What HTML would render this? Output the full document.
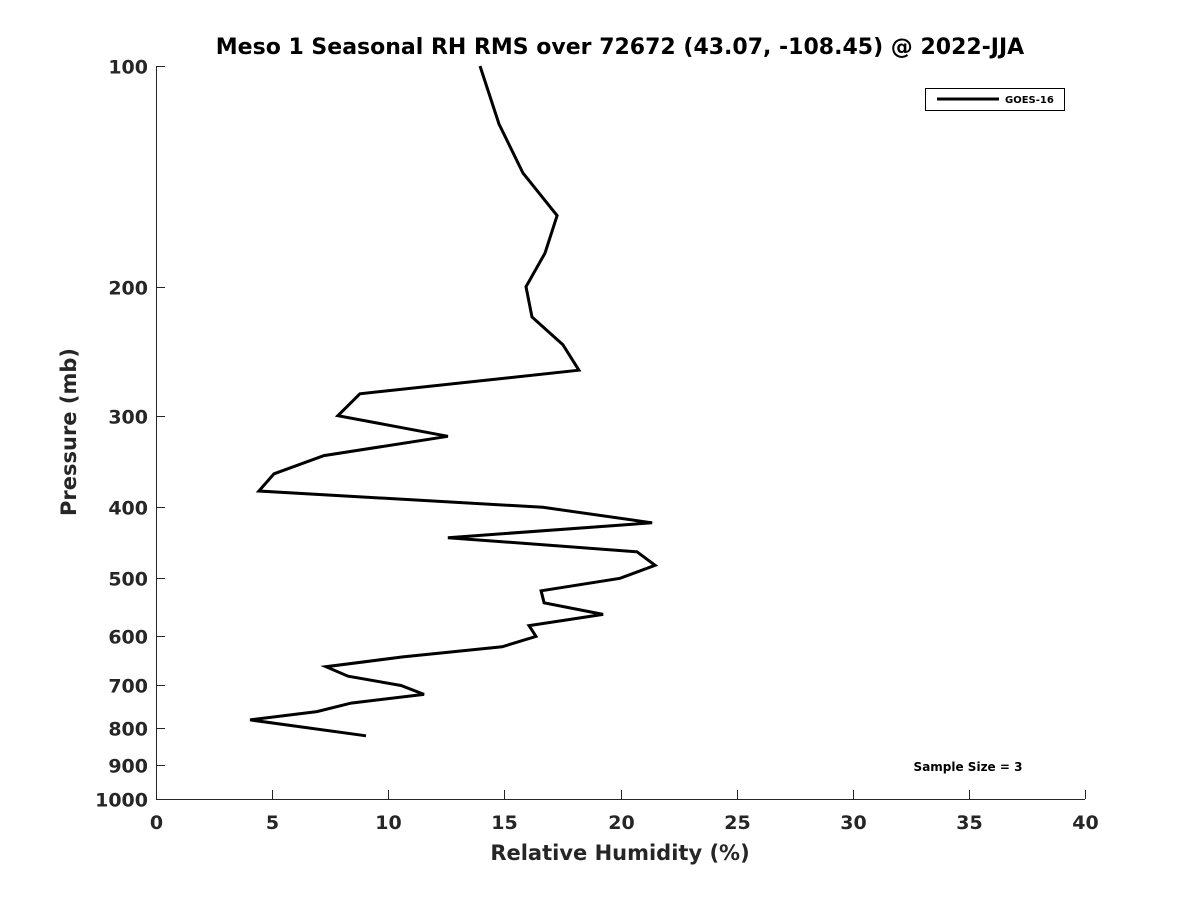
<!DOCTYPE html>
<html><head><meta charset="utf-8"><style>
body{margin:0;background:#fff;}
svg text{font-family:"DejaVu Sans","Liberation Sans",sans-serif;font-weight:bold;fill:#262626;}
</style></head><body>
<svg id="chart" width="1200" height="900" xmlns="http://www.w3.org/2000/svg">
<rect width="1200" height="900" fill="#fff"/>
<text x="620" y="54" text-anchor="middle" font-size="22" style="fill:#000">Meso 1 Seasonal RH RMS over 72672 (43.07, -108.45) @ 2022-JJA</text>
<g id="axes"></g>
<path id="series" fill="none" stroke="#000" stroke-width="3" stroke-linejoin="miter"/>
<g>
<rect x="925.5" y="88.5" width="139" height="22" fill="#fff" stroke="#000" stroke-width="1"/>
<line x1="937" y1="99" x2="999" y2="99" stroke="#000" stroke-width="3"/>
<text x="1005" y="103" font-size="10" style="fill:#000">GOES-16</text>
</g>
<text x="968" y="771" text-anchor="middle" font-size="12" style="fill:#000">Sample Size = 3</text>
<text x="620" y="860" text-anchor="middle" font-size="21">Relative Humidity (%)</text>
<text transform="translate(76,432) rotate(-90)" text-anchor="middle" font-size="21">Pressure (mb)</text>
</svg>
<script>
const pressures=[100,120,140,160,180,200,220,240,260,280,300,320,340,360,380,400,420,440,460,480,500,520,540,560,580,600,620,640,660,680,700,720,740,760,780,820];
const rhValues=[13.95,14.77,15.8,17.27,16.75,15.93,16.19,17.52,18.21,8.78,7.83,12.57,7.23,5.08,4.43,16.66,21.36,12.57,20.71,21.49,19.98,16.58,16.71,19.25,16.06,16.36,14.9,10.63,7.32,8.27,10.55,11.54,8.4,6.93,4.05,9.04];
const xTicks=[0,5,10,15,20,25,30,35,40];
const yTicks=[100,200,300,400,500,600,700,800,900,1000];
const X0=156,X1=1085,Y0=66,Y1=799;
const xs=v=>X0+(v-0)/40*(X1-X0);
const ys=p=>Y0+(Math.log10(p)-2)*(Y1-Y0);
const NS="http://www.w3.org/2000/svg";
const ax=document.getElementById('axes');
function mk(t,a){const e=document.createElementNS(NS,t);for(const k in a)e.setAttribute(k,a[k]);ax.appendChild(e);return e;}
let e=mk('line',{x1:X0,y1:Y1+0.5,x2:X1,y2:Y1+0.5,stroke:'#262626','stroke-width':1});


e=mk('line',{x1:X0+0.5,y1:Y0,x2:X0+0.5,y2:Y1,stroke:'#262626','stroke-width':1});


xTicks.forEach(v=>{const x=Math.round(xs(v))+0.5;
mk('line',{x1:x,y1:Y1,x2:x,y2:Y1-9,stroke:'#262626'});
const t=mk('text',{x:x,y:Y1+30,'text-anchor':'middle','font-size':19});t.textContent=v;

});
yTicks.forEach(p=>{const y=Math.round(ys(p))+0.5;
mk('line',{x1:X0,y1:y,x2:X0+9,y2:y,stroke:'#262626'});
const t=mk('text',{x:X0-8,y:y+7,'text-anchor':'end','font-size':19});t.textContent=p;

});
document.getElementById('series').setAttribute('d',pressures.map((p,i)=>(i?'L':'M')+xs(rhValues[i]).toFixed(1)+','+ys(p).toFixed(1)).join(' '));
</script>
</body></html>
